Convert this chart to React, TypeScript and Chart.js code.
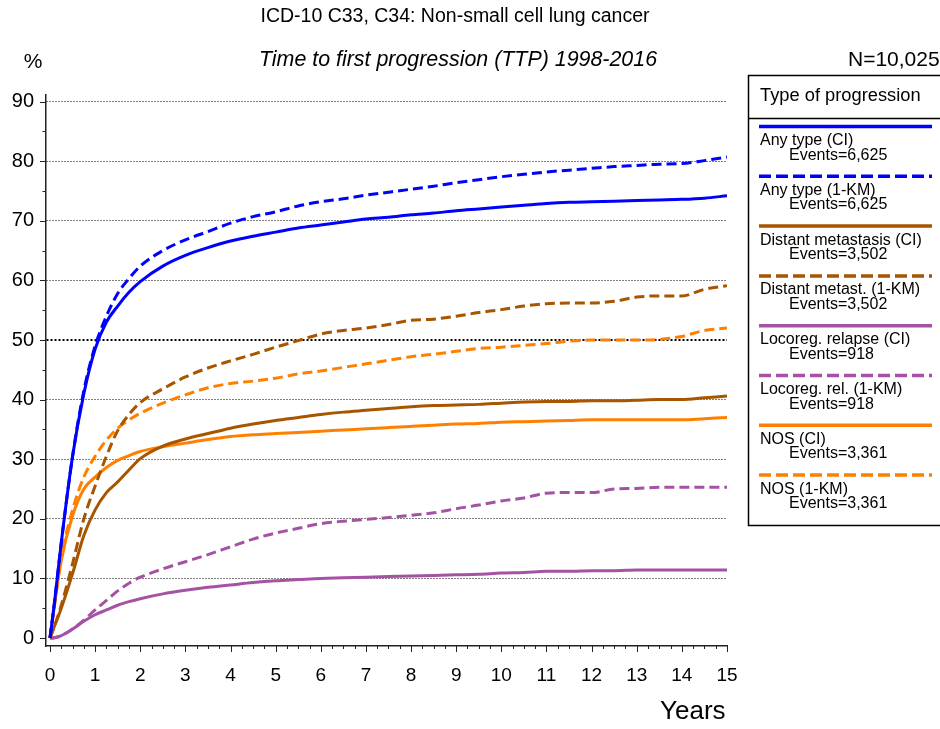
import React, { useEffect, useRef } from 'react';
import { Chart, registerables } from 'chart.js';

Chart.register(...registerables);

const titleText = 'ICD-10 C33, C34: Non-small cell lung cancer';
const subtitleText = 'Time to first progression (TTP) 1998-2016';
const nText = 'N=10,025';
const legendTitle = 'Type of progression';

const years = [0, 0.1, 0.25, 0.5, 0.75, 1, 1.25, 1.5, 1.75, 2, 2.5, 3, 3.5, 4, 4.5, 5, 5.5, 6, 6.5, 7, 7.5, 8, 8.5, 9, 9.5, 10, 10.5, 11, 11.5, 12, 12.5, 13, 13.5, 14, 14.5, 15];

const anyCI = [0, 6, 16, 30.5, 41, 48.5, 53, 55.7, 58, 59.8, 62.4, 64.2, 65.5, 66.6, 67.4, 68.1, 68.8, 69.3, 69.8, 70.3, 70.6, 71, 71.3, 71.7, 72.0, 72.3, 72.6, 72.9, 73.1, 73.2, 73.3, 73.4, 73.5, 73.6, 73.8, 74.2];
const anyKM = [0, 6, 16, 30.5, 41.5, 49, 54, 57.8, 60.3, 62.4, 65, 66.8, 68.2, 69.6, 70.7, 71.5, 72.5, 73.2, 73.7, 74.3, 74.8, 75.3, 75.8, 76.4, 76.9, 77.4, 77.8, 78.2, 78.5, 78.8, 79.1, 79.3, 79.5, 79.6, 80.1, 80.7];
const distCI = [0, 2, 5, 10.8, 17.2, 21.5, 24.4, 26.2, 28.2, 30.1, 32.2, 33.4, 34.3, 35.2, 35.9, 36.5, 37, 37.5, 37.9, 38.2, 38.5, 38.8, 39.0, 39.1, 39.2, 39.4, 39.6, 39.7, 39.7, 39.8, 39.8, 39.9, 40, 40, 40.3, 40.6];
const distKM = [0, 2, 5.5, 12.5, 20, 25.5, 30.5, 34.8, 37.5, 39.5, 41.8, 43.8, 45.3, 46.5, 47.6, 48.8, 49.9, 51, 51.6, 52, 52.6, 53.3, 53.5, 54, 54.6, 55.1, 55.7, 56.1, 56.2, 56.2, 56.5, 57.2, 57.4, 57.4, 58.5, 59.1];
const locoCI = [0, 0.05, 0.4, 1.5, 2.8, 3.9, 4.7, 5.5, 6.1, 6.6, 7.4, 8.0, 8.5, 8.9, 9.3, 9.6, 9.8, 10.0, 10.1, 10.2, 10.3, 10.4, 10.5, 10.6, 10.7, 10.9, 11.0, 11.2, 11.2, 11.3, 11.3, 11.4, 11.4, 11.4, 11.4, 11.4];
const locoKM = [0, 0.05, 0.4, 1.5, 3.0, 4.7, 6.3, 7.9, 9.2, 10.2, 11.6, 12.8, 14.0, 15.3, 16.6, 17.6, 18.4, 19.2, 19.6, 19.9, 20.2, 20.6, 21.0, 21.7, 22.3, 23.0, 23.5, 24.3, 24.4, 24.4, 25.0, 25.1, 25.3, 25.3, 25.3, 25.3];
const nosCI = [0, 5.5, 13, 20.5, 25, 27, 28.6, 29.8, 30.6, 31.3, 32.1, 32.7, 33.3, 33.8, 34.1, 34.3, 34.5, 34.7, 34.9, 35.1, 35.3, 35.5, 35.7, 35.9, 36.0, 36.2, 36.3, 36.4, 36.5, 36.6, 36.6, 36.6, 36.6, 36.6, 36.8, 37.0];
const nosKM = [0, 5.5, 13.5, 21.5, 27, 30.5, 33.2, 35.2, 36.6, 37.7, 39.4, 40.8, 42, 42.7, 43.1, 43.6, 44.3, 44.8, 45.4, 46, 46.6, 47.2, 47.6, 48.1, 48.6, 48.8, 49.1, 49.4, 49.8, 50, 50, 50, 50.1, 50.6, 51.6, 52.0];

const seriesLabels = ['Any type (CI)', 'Any type (1-KM)', 'Distant metastasis (CI)', 'Distant metast. (1-KM)', 'Locoreg. relapse (CI)', 'Locoreg. rel. (1-KM)', 'NOS (CI)', 'NOS (1-KM)'];
const seriesEvents = ['Events=6,625', 'Events=6,625', 'Events=3,502', 'Events=3,502', 'Events=918', 'Events=918', 'Events=3,361', 'Events=3,361'];
const seriesValues = [anyCI, anyKM, distCI, distKM, locoCI, locoKM, nosCI, nosKM];
const seriesColors = ['#0000ff', '#0000ff', '#a85500', '#a85500', '#a552a5', '#a552a5', '#ff8000', '#ff8000'];
const seriesDashed = [false, true, false, true, false, true, false, true];

const xTickValues = [0, 1, 2, 3, 4, 5, 6, 7, 8, 9, 10, 11, 12, 13, 14, 15];
const yTickValues = [0, 10, 20, 30, 40, 50, 60, 70, 80, 90];

const FONT = '"Liberation Sans", Arial, sans-serif';
const DASH = [10, 5];

const decorPlugin = {
  id: 'decor',
  afterDraw(chart: any) {
    const ctx = chart.ctx;
    const xs = chart.scales.x;
    const ys = chart.scales.y;
    const area = chart.chartArea;
    ctx.save();
    ctx.strokeStyle = '#222';
    ctx.lineWidth = 1;
    for (let q = 0; q <= 60; q++) {
      const px = Math.round(xs.getPixelForValue(q / 4)) + 0.5;
      const len = q % 4 === 0 ? 6 : 3;
      ctx.beginPath();
      ctx.moveTo(px, area.bottom);
      ctx.lineTo(px, area.bottom + len);
      ctx.stroke();
    }
    for (let v = 0; v <= 90; v += 5) {
      const py = Math.round(ys.getPixelForValue(v)) + 0.5;
      const len = v % 10 === 0 ? 6 : 3.5;
      ctx.beginPath();
      ctx.moveTo(area.left, py);
      ctx.lineTo(area.left - len, py);
      ctx.stroke();
    }
    ctx.fillStyle = '#000';
    ctx.textBaseline = 'middle';
    ctx.textAlign = 'center';
    ctx.font = `19.5px ${FONT}`;
    ctx.fillText(titleText, 455, 17);
    ctx.font = `italic 21.4px ${FONT}`;
    ctx.fillText(subtitleText, 458, 60);
    ctx.font = `21px ${FONT}`;
    ctx.fillText('%', 33, 62);
    ctx.textAlign = 'left';
    ctx.font = `21px ${FONT}`;
    ctx.fillText(nText, 848, 60);
    ctx.font = `26px ${FONT}`;
    ctx.fillText('Years', 660, 712);
    ctx.strokeStyle = '#000';
    ctx.lineWidth = 1.5;
    ctx.strokeRect(748.5, 75.5, 200, 450);
    ctx.beginPath();
    ctx.moveTo(748, 118.5);
    ctx.lineTo(940, 118.5);
    ctx.stroke();
    ctx.font = `18.3px ${FONT}`;
    ctx.fillText(legendTitle, 760, 96);
    ctx.textBaseline = 'alphabetic';
    for (let i = 0; i < seriesLabels.length; i++) {
      const y0 = 126.5 + i * 49.8;
      ctx.strokeStyle = seriesColors[i];
      ctx.lineWidth = 3.5;
      ctx.setLineDash(seriesDashed[i] ? [12, 5] : []);
      ctx.beginPath();
      ctx.moveTo(759, y0);
      ctx.lineTo(932, y0);
      ctx.stroke();
      ctx.setLineDash([]);
      ctx.font = `16px ${FONT}`;
      ctx.fillStyle = '#000';
      ctx.fillText(seriesLabels[i], 760, y0 + 18.5);
      ctx.fillText(seriesEvents[i], 789, y0 + 33);
    }
    ctx.restore();
  },
};

export default function App() {
  const ref = useRef<HTMLCanvasElement | null>(null);
  useEffect(() => {
    if (!ref.current) return;
    const datasets = seriesValues.map((vals, i) => ({
      label: seriesLabels[i],
      data: years.map((t, j) => ({ x: t, y: vals[j] })),
      borderColor: seriesColors[i],
      backgroundColor: seriesColors[i],
      borderWidth: 3,
      borderDash: seriesDashed[i] ? DASH : [],
      pointRadius: 0,
      fill: false,
      cubicInterpolationMode: 'monotone' as const,
    }));
    const chart = new Chart(ref.current, {
      type: 'line',
      data: { datasets },
      plugins: [decorPlugin],
      options: {
        animation: false,
        responsive: false,
        devicePixelRatio: 1,
        layout: { padding: { top: 95, right: 213, left: 0, bottom: 0 } },
        plugins: { legend: { display: false }, tooltip: { enabled: false }, title: { display: false } },
        scales: {
          x: {
            type: 'linear',
            min: -0.0886,
            max: 15,
            afterBuildTicks: (s: any) => { s.ticks = xTickValues.map((v) => ({ value: v })); },
            afterFit: (s: any) => { s.height = 83; },
            ticks: { padding: 18, color: '#000', font: { family: FONT, size: 19 }, maxRotation: 0, autoSkip: false },
            grid: { display: false, drawTicks: false },
            border: { display: true, color: '#222', width: 1.5 },
          },
          y: {
            type: 'linear',
            min: -1.342,
            max: 91.11,
            afterBuildTicks: (s: any) => { s.ticks = yTickValues.map((v) => ({ value: v })); },
            afterFit: (s: any) => { s.width = 46; },
            ticks: { padding: 12, color: '#000', font: { family: FONT, size: 20 }, autoSkip: false },
            grid: {
              drawTicks: false,
              color: (c: any) => (c.tick && c.tick.value === 0 ? 'rgba(0,0,0,0)' : '#000'),
              lineWidth: (c: any) => (c.tick && c.tick.value === 50 ? 2 : 1),
            },
            border: {
              display: true,
              color: '#222',
              width: 1.5,
              dash: (c: any) => (c.tick && c.tick.value === 50 ? [2, 2] : [1, 2]),
            },
          },
        },
      },
    });
    return () => chart.destroy();
  }, []);
  return (
    <div style={{ position: 'absolute', left: 0, top: 0, width: 940, height: 729, background: '#fff' }}>
      <canvas ref={ref} width={940} height={729} style={{ display: 'block', width: 940, height: 729 }} />
    </div>
  );
}
